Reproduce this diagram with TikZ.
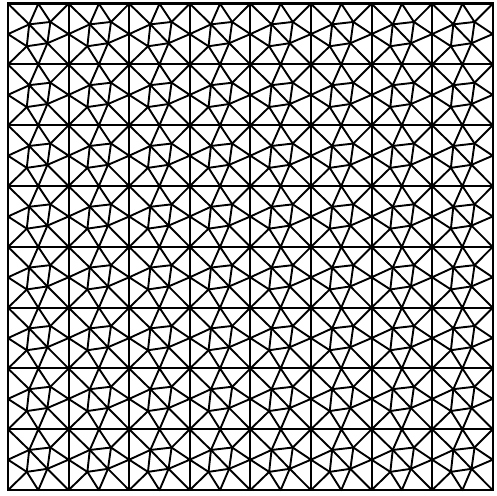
\documentclass[tikz,border=0pt]{standalone}
\begin{document}
\begin{tikzpicture}[x=1pt,y=1pt,
  mesh/.style={line width=1.9pt, line join=round, line cap=round},
  gridline/.style={line width=2pt},
  frame/.style={line width=2.4pt}]
\useasboundingbox (0,0) rectangle (496,496);
\def\cw{60.59}
\def\ch{60.8}
\foreach \i in {0,...,7}{
  \foreach \j in {0,...,7}{
    \begin{scope}[shift={(8+\i*\cw, 492.3-\j*\ch)}, x=\cw pt, y=-\ch pt]
      \coordinate (TL) at (0,0);
      \coordinate (TR) at (1,0);
      \coordinate (BR) at (1,1);
      \coordinate (BL) at (0,1);
      \coordinate (T) at (0.5,0);
      \coordinate (R) at (1,0.5);
      \coordinate (B) at (0.5,1);
      \coordinate (L) at (0,0.5);
      \coordinate (P1) at (0.35,0.34);
      \coordinate (P2) at (0.70,0.30);
      \coordinate (P3) at (0.65,0.65);
      \coordinate (P4) at (0.31,0.70);
      \draw[mesh] (TL) -- (P1) -- (P3) -- (BR);
      \draw[mesh] (TR) -- (P2);
      \draw[mesh] (BL) -- (P4);
      \draw[mesh] (P1) -- (P2) -- (P3) -- (P4) -- cycle;
      \draw[mesh] (P1) -- (T) -- (P2) -- (R) -- (P3) -- (B) -- (P4) -- (L) -- cycle;
      \draw[gridline] (TL) rectangle (BR);
    \end{scope}
  }
}
\draw[frame] (8,492.3) rectangle (8+8*\cw, 492.3-8*\ch);
\end{tikzpicture}
\end{document}
